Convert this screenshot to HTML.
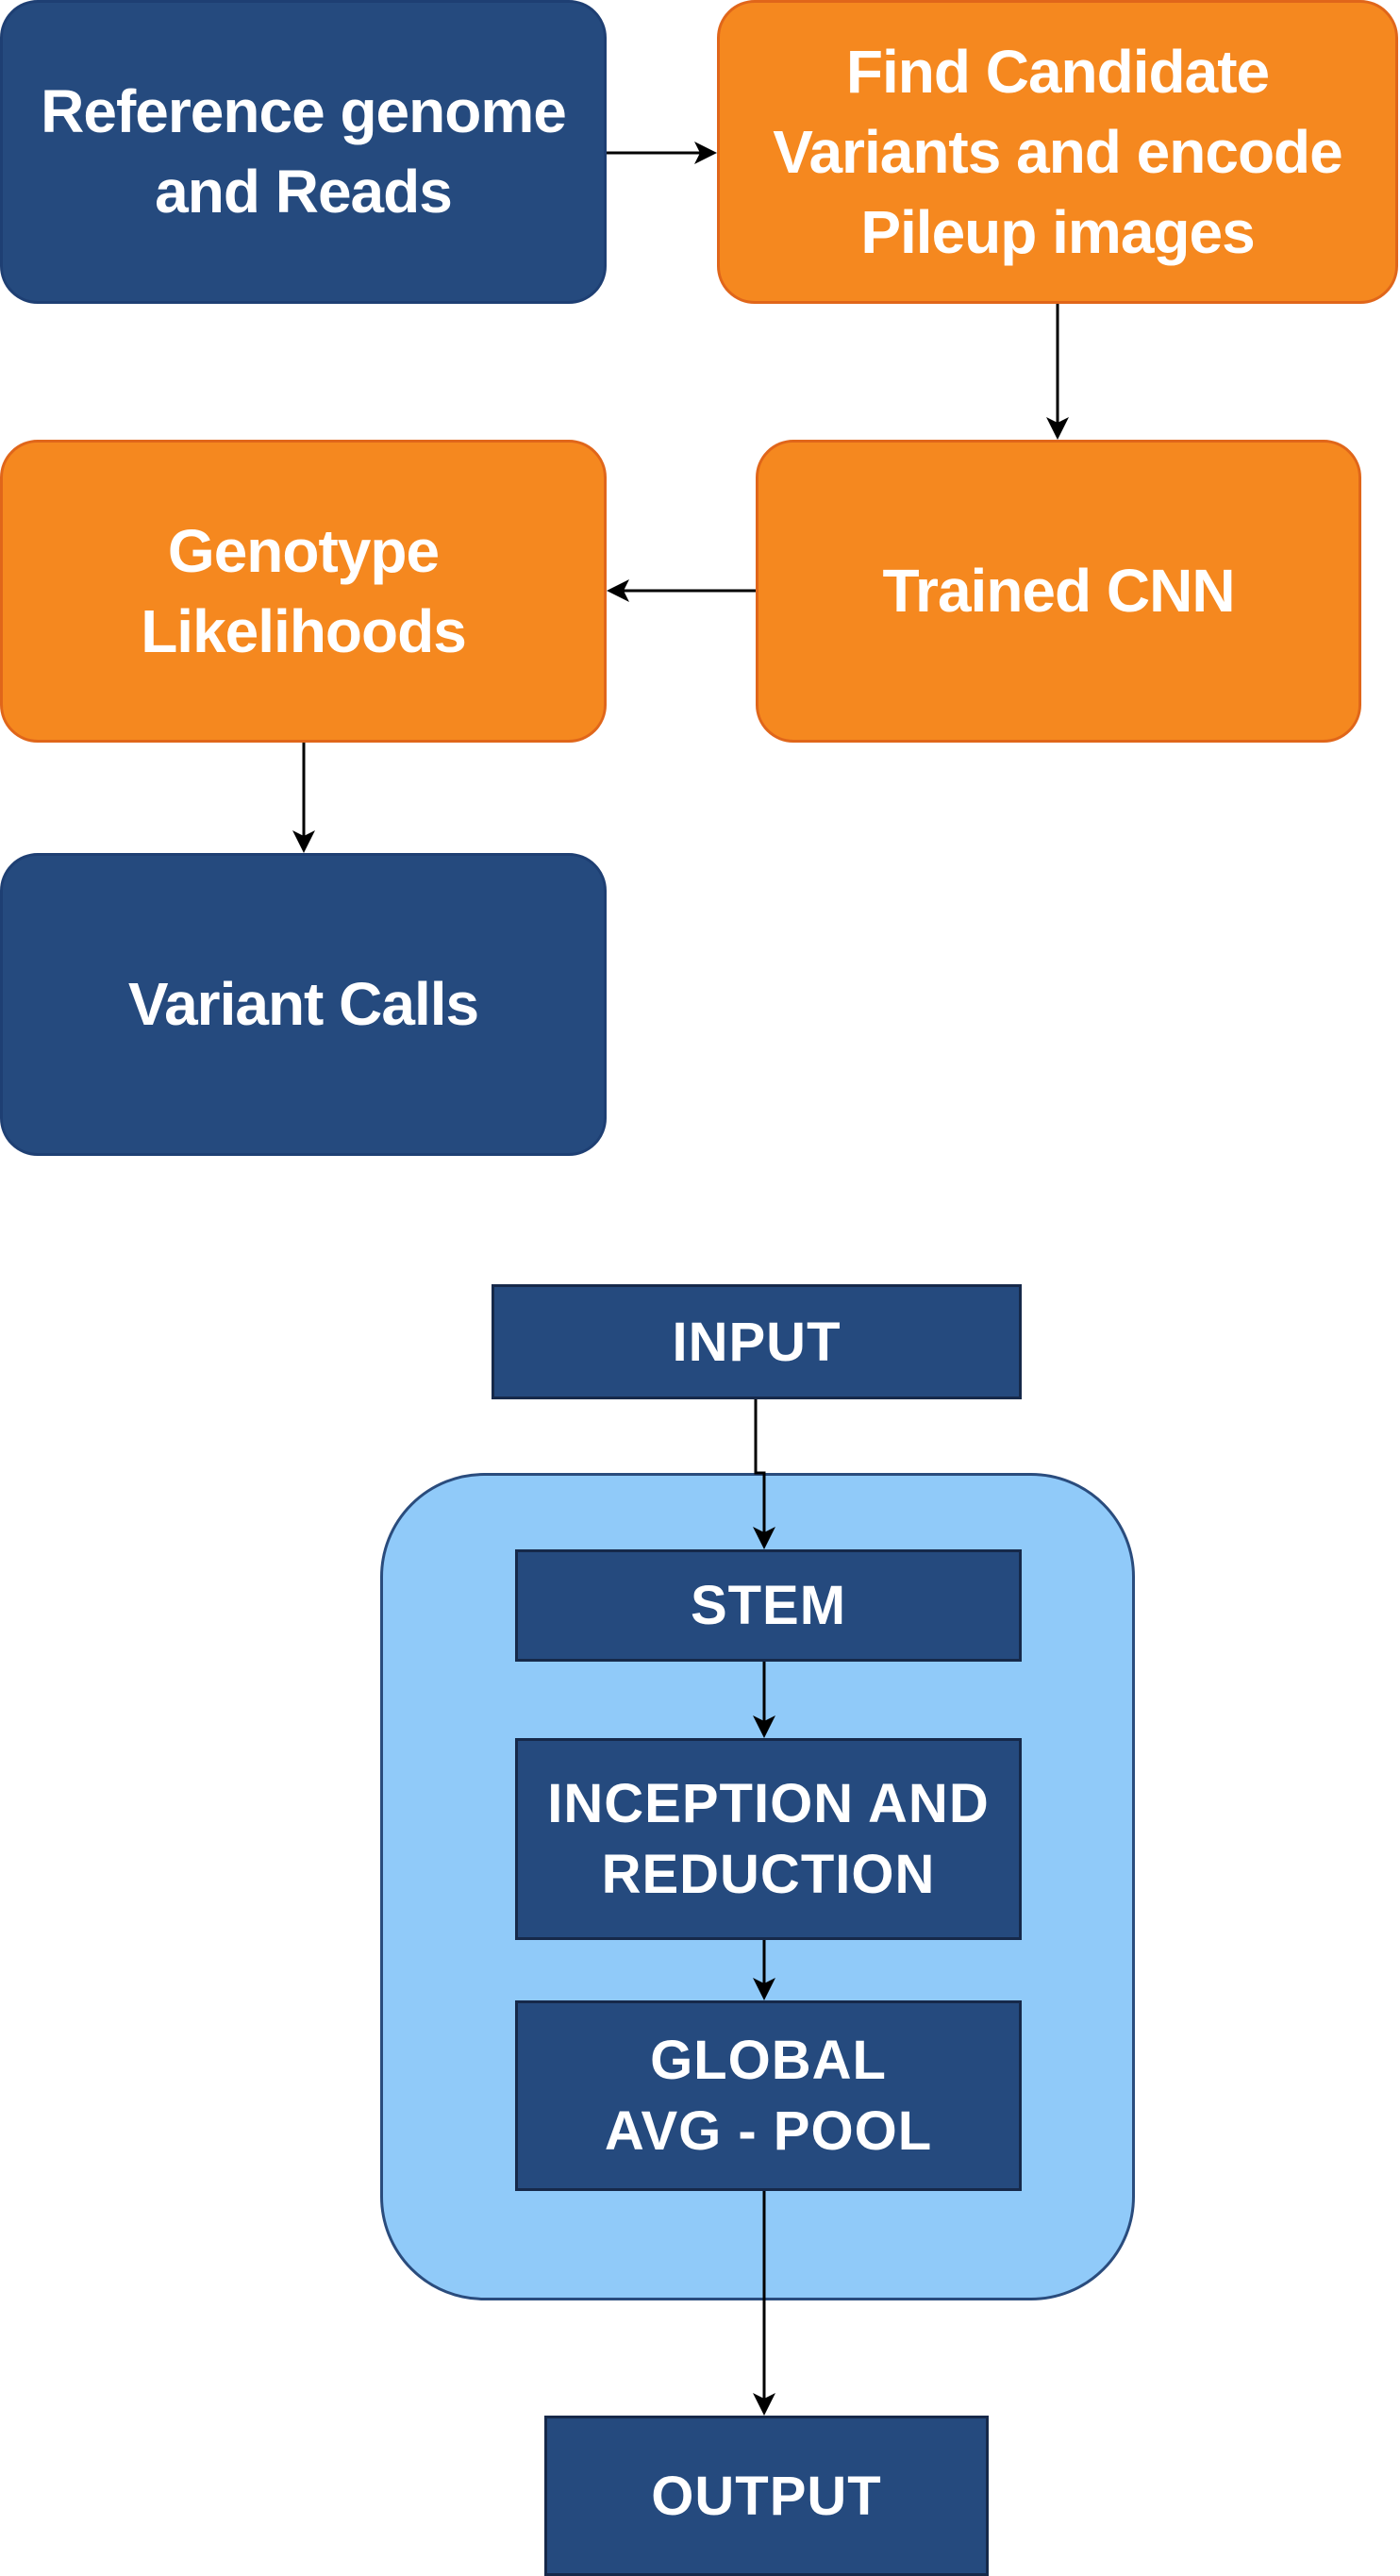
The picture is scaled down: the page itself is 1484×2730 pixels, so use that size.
<!DOCTYPE html>
<html><head><meta charset="utf-8"><style>
html,body{margin:0;padding:0;background:#fff;}
body{width:1484px;height:2724px;position:relative;overflow:hidden;font-family:"Liberation Sans",Arial,sans-serif;}
.b{position:absolute;box-sizing:border-box;display:flex;align-items:center;justify-content:center;text-align:center;color:#fff;}
.blue{background:#254a7e;border:3px solid #1e3f73;border-radius:40px;}
.or{background:#f5881f;border:3px solid #e0661a;border-radius:40px;}
.t1{font-size:64px;line-height:85px;font-weight:bold;letter-spacing:-1px;}
.sq{background:#254a7e;border:3px solid #16294a;font-size:58px;line-height:75px;font-weight:bold;letter-spacing:1px;}
</style></head><body>
<div class="b blue t1" style="left:0;top:0;width:643px;height:322px;">Reference genome<br>and Reads</div>
<div class="b or t1" style="left:760px;top:0;width:722px;height:322px;">Find Candidate<br>Variants and encode<br>Pileup images</div>
<div class="b or t1" style="left:801px;top:466px;width:642px;height:321px;">Trained CNN</div>
<div class="b or t1" style="left:0;top:466px;width:643px;height:321px;">Genotype<br>Likelihoods</div>
<div class="b blue t1" style="left:0;top:904px;width:643px;height:321px;">Variant Calls</div>

<div style="position:absolute;left:403px;top:1561px;width:800px;height:877px;box-sizing:border-box;background:#90caf9;border:3px solid #2a4c7d;border-radius:110px;"></div>
<div class="b sq" style="left:521px;top:1361px;width:562px;height:122px;">INPUT</div>
<div class="b sq" style="left:546px;top:1642px;width:537px;height:119px;">STEM</div>
<div class="b sq" style="left:546px;top:1842px;width:537px;height:214px;">INCEPTION AND<br>REDUCTION</div>
<div class="b sq" style="left:546px;top:2120px;width:537px;height:202px;">GLOBAL<br>AVG - POOL</div>
<div class="b sq" style="left:577px;top:2560px;width:471px;height:170px;">OUTPUT</div>

<svg width="1484" height="2724" style="position:absolute;left:0;top:0" xmlns="http://www.w3.org/2000/svg">
<g stroke="#000" stroke-width="3" fill="none">
<line x1="643" y1="162" x2="750" y2="162"/>
<line x1="1121" y1="322" x2="1121" y2="456"/>
<line x1="801" y1="626" x2="653" y2="626"/>
<line x1="322" y1="787" x2="322" y2="894"/>
<polyline points="801,1483 801,1561 810,1561 810,1632"/>
<line x1="810" y1="1761" x2="810" y2="1832"/>
<line x1="810" y1="2056" x2="810" y2="2110"/>
<line x1="810" y1="2322" x2="810" y2="2550"/>
</g>
<g fill="#000">
<polygon points="760,162 736,150 742,162 736,174"/>
<polygon points="1121,466 1109,442 1121,448 1133,442"/>
<polygon points="643,626 667,614 661,626 667,638"/>
<polygon points="322,904 310,880 322,886 334,880"/>
<polygon points="810,1642 798,1618 810,1624 822,1618"/>
<polygon points="810,1842 798,1818 810,1824 822,1818"/>
<polygon points="810,2120 798,2096 810,2102 822,2096"/>
<polygon points="810,2560 798,2536 810,2542 822,2536"/>
</g>
</svg>
</body></html>
